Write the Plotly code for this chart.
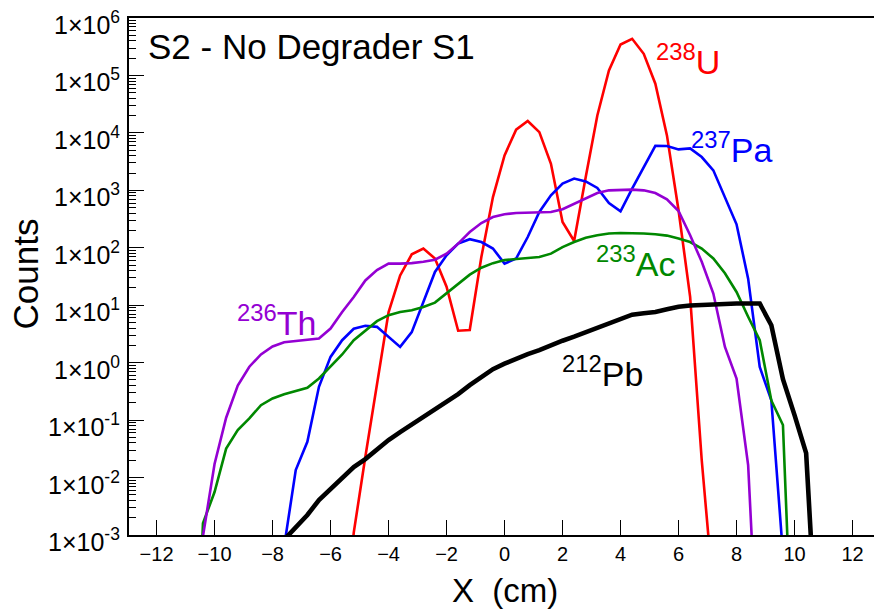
import plotly.graph_objects as go

# bin centres (cm) and counts, one list per isotope
u_x = [-5.6, -5.2, -4.8, -4.4, -4.0, -3.6, -3.2, -2.8, -2.4, -2.0, -1.6, -1.2, -0.8, -0.4, 0.0,
       0.4, 0.8, 1.2, 1.6, 2.0, 2.4, 2.8, 3.2, 3.6, 4.0, 4.4, 4.8, 5.2, 5.6, 6.0, 6.4, 6.8, 7.2]
u_y = [1e-5, 1.1e-3, 0.023, 0.45, 7.5, 33, 77, 97, 65, 21, 3.6, 3.7, 69, 764, 4060,
       11400, 16100, 10300, 2900, 281, 131, 1700, 20100, 122000, 346000, 435000, 238000, 71700, 9050, 450, 14, 0.02, 1e-4]

pa_x = [-7.6, -7.2, -6.8, -6.4, -6.0, -5.6, -5.2, -4.8, -4.4, -4.0, -3.6, -3.2, -2.8, -2.4, -2.0,
        -1.6, -1.2, -0.8, -0.4, 0.0, 0.4, 0.8, 1.2, 1.6, 2.0, 2.4, 2.8, 3.2, 3.6, 4.0,
        4.4, 4.8, 5.2, 5.6, 6.0, 6.4, 6.8, 7.2, 7.6, 8.0, 8.4, 8.8, 9.2, 9.6, 10.0]
pa_y = [6.3e-4, 0.0135, 0.042, 0.38, 1.26, 2.46, 3.9, 4.4, 4.2, 2.8, 1.88, 3.4, 11.4, 38, 74,
        118, 141, 126, 97, 53, 65, 154, 420, 818, 1310, 1600, 1430, 1100, 601, 431,
        1070, 2540, 5940, 5900, 5160, 5370, 3800, 2230, 764, 256, 29, 0.84, 0.22, 1.0e-3, 1e-6]

th_x = [-10.8, -10.4, -10.0, -9.6, -9.2, -8.8, -8.4, -8.0, -7.6, -7.2, -6.8, -6.4, -6.0, -5.6, -5.2,
        -4.8, -4.4, -4.0, -3.6, -3.2, -2.8, -2.4, -2.0, -1.6, -1.2, -0.8, -0.4, 0.0, 0.4, 0.8,
        1.2, 1.6, 2.0, 2.4, 2.8, 3.2, 3.6, 4.0, 4.4, 4.8, 5.2, 5.6, 6.0, 6.4, 6.8,
        7.2, 7.6, 8.0, 8.4, 8.8]
th_y = [1e-7, 9.5e-4, 0.0172, 0.110, 0.40, 0.85, 1.39, 1.91, 2.27, 2.37, 2.46, 2.64, 3.93, 7.6, 13.9,
        27, 41, 53, 53, 54, 57, 62, 79, 118, 188, 270, 343, 383, 403, 409,
        409, 420, 468, 587, 735, 897, 1000, 1030, 1030, 1000, 897, 697, 437, 165, 57,
        16, 1.88, 0.53, 0.0165, 1.4e-6]

ac_x = [-10.8, -10.4, -10.0, -9.6, -9.2, -8.8, -8.4, -8.0, -7.6, -7.2, -6.8, -6.4, -6.0, -5.6, -5.2,
        -4.8, -4.4, -4.0, -3.6, -3.2, -2.8, -2.4, -2.0, -1.6, -1.2, -0.8, -0.4, 0.0, 0.4, 0.8,
        1.2, 1.6, 2.0, 2.4, 2.8, 3.2, 3.6, 4.0, 4.4, 4.8, 5.2, 5.6, 6.0, 6.4, 6.8,
        7.2, 7.6, 8.0, 8.4, 8.8, 9.2, 9.6, 10.0]
ac_y = [1e-8, 0.0016, 0.0056, 0.032, 0.067, 0.107, 0.182, 0.238, 0.283, 0.319, 0.365, 0.53, 0.845, 1.39, 2.46,
        3.67, 5.27, 6.7, 7.6, 8.2, 9.3, 11.1, 16, 23.8, 34, 45, 54, 61, 63, 65,
        69, 79, 103, 126, 150, 165, 177, 181, 181, 177, 172, 163, 145, 126, 97,
        65, 36, 17, 6.3, 2.46, 0.22, 0.082, 6.5e-7]

pb_x = [-7.6, -7.2, -6.8, -6.4, -6.0, -5.6, -5.2, -4.8, -4.4, -4.0, -3.6, -3.2, -2.8, -2.4, -2.0,
        -1.6, -1.2, -0.8, -0.4, 0.0, 0.4, 0.8, 1.2, 1.6, 2.0, 2.4, 2.8, 3.2, 3.6, 4.0,
        4.4, 4.8, 5.2, 5.6, 6.0, 6.4, 6.8, 7.2, 7.6, 8.0, 8.4, 8.8, 9.2, 9.6, 10.0,
        10.4, 10.8]
pb_y = [8.3e-4, 1.35e-3, 2.23e-3, 4.06e-3, 6.3e-3, 0.010, 0.0152, 0.021, 0.0313, 0.0449, 0.0618, 0.0835, 0.113, 0.152, 0.206,
        0.283, 0.407, 0.571, 0.77, 0.96, 1.17, 1.41, 1.65, 2.01, 2.41, 2.83, 3.39, 4.14, 4.96, 5.82,
        6.84, 7.26, 7.64, 8.5, 9.4, 9.9, 10.2, 10.4, 10.5, 10.7, 10.7, 10.7, 4.49, 0.516, 0.122,
        0.0267, 7e-6]

x_ticks = [-12, -10, -8, -6, -4, -2, 0, 2, 4, 6, 8, 10, 12]
y_exps = [-3, -2, -1, 0, 1, 2, 3, 4, 5, 6]

FONT = "Liberation Sans, Arial, sans-serif"

# plot box in pixels (used only to place the text labels)
L, T, W, H = 129, 18, 745, 517


def px(x):
    return (x - L) / W


def py(y):
    return (T + H - y) / H


fig = go.Figure()

curves = [
    (u_x, u_y, "#ff0000", 2.6),
    (pa_x, pa_y, "#0000ff", 2.6),
    (ac_x, ac_y, "#008800", 2.6),
    (th_x, th_y, "#9400d3", 2.6),
    (pb_x, pb_y, "#000000", 4.6),
]
for xs, ys, col, w in curves:
    fig.add_trace(go.Scatter(x=xs, y=ys, mode="lines",
                             line=dict(color=col, width=w), hoverinfo="skip"))

fig.update_xaxes(
    range=[-12.95, 12.74], tickvals=x_ticks,
    ticks="inside", ticklen=15, tickwidth=1, tickcolor="black",
    showline=True, linecolor="black", linewidth=1.5, mirror=True,
    showgrid=False, zeroline=False, automargin=False,
    tickfont=dict(family=FONT, size=20, color="black"),
)
fig.update_yaxes(
    type="log", range=[-3, 6],
    tickvals=[10.0 ** e for e in y_exps], showticklabels=False,
    ticks="inside", ticklen=15, tickwidth=1, tickcolor="black",
    minor=dict(ticks="inside", ticklen=7, tickwidth=1, tickcolor="black", dtick="D1", showgrid=False),
    showline=True, linecolor="black", linewidth=1.5, mirror=False,
    showgrid=False, zeroline=False, automargin=False,
)

# y tick labels sit a little below their ticks in the original, so draw them as annotations
for e in y_exps:
    fig.add_annotation(text="1\u00d710<sup>%d</sup>" % e, xref="paper", yref="y",
                       x=px(121), y=e, xanchor="right", yanchor="middle", yshift=-5,
                       showarrow=False, borderpad=0,
                       font=dict(family=FONT, size=25, color="black"))

labels = [
    # text, left px, baseline px, colour
    ("<sup>238</sup>U", 655, 75, "#ff0000"),
    ("<sup>237</sup>Pa", 690, 163, "#0000ff"),
    ("<sup>233</sup>Ac", 595, 277, "#008800"),
    ("<sup>236</sup>Th", 236, 336, "#9400d3"),
    ("<sup>212</sup>Pb", 561, 387, "#000000"),
]
for txt, lx, base, col in labels:
    fig.add_annotation(text=txt, xref="paper", yref="paper", x=px(lx), y=py(base + 7),
                       xanchor="left", yanchor="bottom", showarrow=False, borderpad=0,
                       font=dict(family=FONT, size=34, color=col))

fig.add_annotation(text="S2 - No Degrader S1", xref="paper", yref="paper",
                   x=px(147), y=py(67), xanchor="left", yanchor="bottom",
                   showarrow=False, borderpad=0, font=dict(family=FONT, size=35, color="black"))
fig.add_annotation(text="X\u00a0 (cm)", xref="paper", yref="paper",
                   x=px(505), y=py(610), xanchor="center", yanchor="bottom",
                   showarrow=False, borderpad=0, font=dict(family=FONT, size=33, color="black"))
fig.add_annotation(text="Counts", xref="paper", yref="paper", textangle=-90,
                   x=px(24.5), y=py(274), xanchor="center", yanchor="middle",
                   showarrow=False, borderpad=0, font=dict(family=FONT, size=35, color="black"))

fig.update_layout(
    width=874, height=612,
    margin=dict(l=L, r=874 - L - W, t=T, b=612 - T - H),
    plot_bgcolor="white", paper_bgcolor="white",
    showlegend=False,
    font=dict(family=FONT, color="black"),
)

# page body has a default 8px margin; drop it so the figure sits at the window corner
fig.write_html("out.html", config={"displayModeBar": False},
               post_script="document.body.style.margin='0';")
